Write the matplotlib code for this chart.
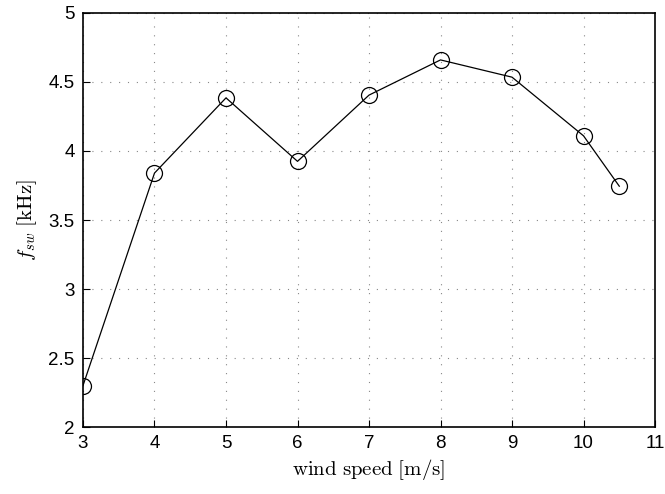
import matplotlib
matplotlib.use("Agg")
import matplotlib.pyplot as plt

wind_speed = [3, 4, 5, 6, 7, 8, 9, 10, 10.5]
f_sw = [2.30, 3.84, 4.385, 3.925, 4.405, 4.66, 4.535, 4.11, 3.745]
xticks = [3, 4, 5, 6, 7, 8, 9, 10, 11]
yticks = [2, 2.5, 3, 3.5, 4, 4.5, 5]
ytick_labels = ["2", "2.5", "3", "3.5", "4", "4.5", "5"]

plt.rcParams['mathtext.fontset'] = 'cm'
plt.rcParams['font.family'] = ['Liberation Sans', 'DejaVu Sans']

fig = plt.figure(figsize=(6.65, 4.94), dpi=100)
ax = fig.add_axes([0.1248, 0.1356, 0.8602, 0.8381])
ax.plot(wind_speed, f_sw, color='black', linewidth=0.9, marker='o',
        markersize=11.5, markerfacecolor='none', markeredgecolor='black',
        markeredgewidth=0.9)
ax.set_xlim(3, 11)
ax.set_ylim(2, 5)
ax.set_xticks(xticks)
ax.set_yticks(yticks)
ax.set_yticklabels(ytick_labels)
ax.tick_params(direction='in', length=5, width=0.8, labelsize=13.5, pad=6,
               top=False, right=False)
ax.grid(True, color='#888888', linestyle=(0, (1, 7)), linewidth=0.8)
for s in ax.spines.values():
    s.set_linewidth(1.2)
ax.set_xlabel(r'$\mathrm{wind\ speed\ [m/s]}$', fontsize=15, labelpad=3)
ax.set_ylabel(r'$f_{sw}\ \mathrm{[kHz]}$', fontsize=15, labelpad=7)
fig.savefig('out.png', dpi=100)
